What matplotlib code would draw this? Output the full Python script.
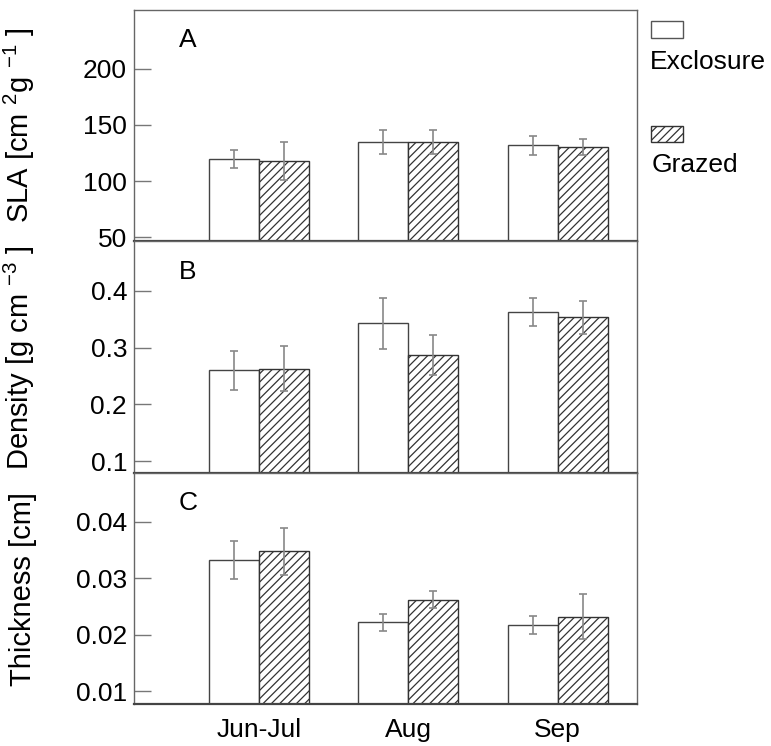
import numpy as np
import matplotlib.pyplot as plt
from matplotlib.patches import Rectangle

plt.rcParams['font.family'] = ['Liberation Sans', 'DejaVu Sans']
plt.rcParams['mathtext.fontset'] = 'custom'
plt.rcParams['mathtext.rm'] = 'Liberation Sans'
plt.rcParams['mathtext.it'] = 'Liberation Sans'
plt.rcParams['hatch.linewidth'] = 0.9

# Données : moyennes et erreurs (exclos / pâturé)
periods = ["Jun-Jul", "Aug", "Sep"]
treatments = ["Exclosure", "Grazed"]

sla_excl = [119.4, 134.8, 131.8]
sla_excl_err = [8.0, 11.0, 8.5]
sla_graz = [117.9, 134.8, 130.4]
sla_graz_err = [16.6, 10.5, 7.0]

dens_excl = [0.260, 0.343, 0.362]
dens_excl_err = [0.034, 0.045, 0.025]
dens_graz = [0.263, 0.287, 0.353]
dens_graz_err = [0.040, 0.035, 0.029]

thick_excl = [0.0333, 0.0222, 0.0217]
thick_excl_err = [0.0034, 0.0015, 0.0016]
thick_graz = [0.0348, 0.0262, 0.0232]
thick_graz_err = [0.0042, 0.0015, 0.0040]

panels = [
    ("A", "SLA [cm $^{2}$g $^{-1}$ ]", sla_excl, sla_excl_err, sla_graz, sla_graz_err,
     (46.5, 252), [50, 100, 150, 200], ["50", "100", "150", "200"]),
    ("B", "Density [g cm $^{-3}$ ]", dens_excl, dens_excl_err, dens_graz, dens_graz_err,
     (0.0794, 0.4867), [0.1, 0.2, 0.3, 0.4], ["0.1", "0.2", "0.3", "0.4"]),
    ("C", "Thickness [cm]", thick_excl, thick_excl_err, thick_graz, thick_graz_err,
     (0.00765, 0.0487), [0.01, 0.02, 0.03, 0.04], ["0.01", "0.02", "0.03", "0.04"]),
]

fig, axes = plt.subplots(3, 1, figsize=(7.71, 7.46), dpi=100, sharex=True)
plt.subplots_adjust(left=0.1738, right=0.826, top=0.9866, bottom=0.0559, hspace=0)

x = np.arange(len(periods))
w = 0.334
edge = '#444444'
errc = '#888888'
fs = 19

for ax, (letter, ylab, ex, exe, gr, gre, ylim, ticks, ticklabels) in zip(axes, panels):
    ax.bar(x - w / 2, ex, w, color='white', edgecolor=edge, linewidth=1.0, zorder=2)
    ax.bar(x + w / 2, gr, w, color='white', edgecolor='#333333', hatch='////',
           linewidth=1.0, zorder=2)
    ax.errorbar(x - w / 2, ex, yerr=exe, fmt='none', ecolor=errc, elinewidth=1.2,
                capsize=3, capthick=1.2, zorder=3)
    ax.errorbar(x + w / 2, gr, yerr=gre, fmt='none', ecolor=errc, elinewidth=1.2,
                capsize=3, capthick=1.2, zorder=3)
    ax.set_ylim(*ylim)
    ax.set_xlim(-0.836, 2.53)
    ax.set_yticks(ticks)
    ax.set_yticklabels(ticklabels, fontsize=fs)
    ax.tick_params(axis='y', direction='in', length=12, width=1, color='#777777', pad=5)
    ax.tick_params(axis='x', length=0, labelsize=fs, pad=10)
    ax.set_ylabel(ylab, fontsize=21)
    ax.yaxis.set_label_coords(-0.193, 0.5)
    for side in ['left', 'right', 'top']:
        ax.spines[side].set_color('#666666')
        ax.spines[side].set_linewidth(1.0)
    ax.spines['bottom'].set_color('#444444')
    ax.spines['bottom'].set_linewidth(1.6)
    ax.text(0.107, 0.87, letter, transform=ax.transAxes, fontsize=fs,
            ha='center', va='center')

axes[-1].set_xticks(x)
axes[-1].set_xticklabels(periods)

# Légende à droite : carré puis étiquette en dessous
lax = fig.add_axes([0.826, 0.0559, 0.174, 0.9307])
lax.set_xlim(0, 771 - 637)
lax.set_ylim(746 - 10, 0)
lax.axis('off')
lax.add_patch(Rectangle((14, 12), 32, 18, facecolor='white', edgecolor='#555555', lw=1.0))
lax.text(13, 55, treatments[0], fontsize=fs, va='center', ha='left')
lax.add_patch(Rectangle((14, 123), 32, 17, facecolor='white', edgecolor='#333333',
                        hatch='////', lw=1.0))
lax.text(15, 164, treatments[1], fontsize=fs, va='center', ha='left')

fig.savefig('out.png', dpi=100)
